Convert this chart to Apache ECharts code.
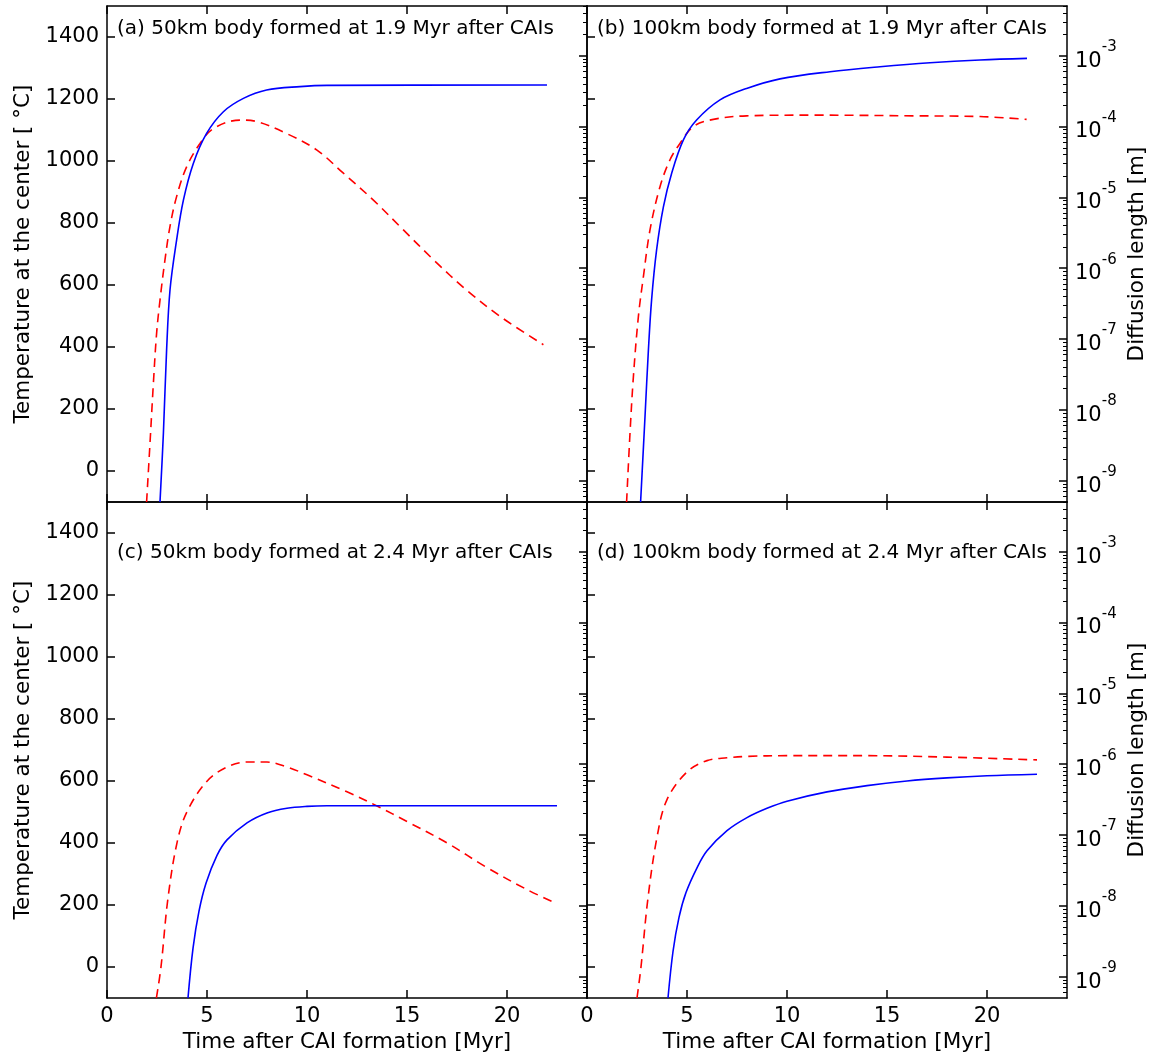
<!DOCTYPE html>
<html><head><meta charset="utf-8">
<script src="https://cdn.jsdelivr.net/npm/echarts@6/dist/echarts.min.js"></script>
<style>html,body{margin:0;padding:0;background:#fff}#c{width:1153px;height:1057px}</style>
</head><body><div id="c"></div>
<script>
// ---- tick labels ----
const tempTicks = [0, 200, 400, 600, 800, 1000, 1200, 1400];
const timeTicks = [0, 5, 10, 15, 20];
const logExpTicks = [-9, -8, -7, -6, -5, -4, -3];
const panelLabels = [
  '(a) 50km body formed at 1.9 Myr after CAIs',
  '(b) 100km body formed at 1.9 Myr after CAIs',
  '(c) 50km body formed at 2.4 Myr after CAIs',
  '(d) 100km body formed at 2.4 Myr after CAIs'
];
const xTitle = 'Time after CAI formation [Myr]';
const yLeftTitle = 'Temperature at the center [ °C]';
const yRightTitle = 'Diffusion length [m]';

// ---- data: [time Myr, temperature °C] (blue) ----
const aTemp = [[2.65,-100],[2.82,122],[2.98,390],[3.15,584],[3.48,745],[3.82,874],[4.32,993],[4.98,1089],[5.82,1159],[6.82,1202],[7.98,1229],[9.65,1240],[11,1244],[22,1245]];
const bTemp = [[2.68,-100],[2.9,175],[3.07,390],[3.23,552],[3.48,713],[3.82,852],[4.23,960],[4.82,1068],[5.48,1132],[6.65,1197],[7.98,1234],[9.65,1265],[12.15,1288],[14.65,1304],[17.15,1317],[19.65,1326],[22,1331]];
const cTemp = [[4.05,-100],[4.3,60],[4.6,180],[4.95,270],[5.5,360],[6,410],[7,465],[8,497],[9,512],[10,518],[11,520],[22.5,520]];
const dTemp = [[4.05,-100],[4.3,50],[4.6,160],[4.95,240],[5.5,320],[6,375],[7,440],[8,482],[9,512],[10,535],[12,565],[14,585],[16,600],[18,610],[20,617],[22.5,622]];

// ---- data: [time Myr, log10 diffusion length (m)] (red dashed) ----
const aDiff = [[1.98,-9.3],[2.15,-8.47],[2.32,-7.62],[2.48,-6.92],[2.65,-6.45],[2.9,-5.88],[3.15,-5.41],[3.48,-4.99],[3.98,-4.57],[4.65,-4.24],[5.32,-4.03],[6.65,-3.91],[7.48,-3.93],[8.98,-4.10],[10.48,-4.33],[11.82,-4.66],[13.32,-5.04],[14.82,-5.46],[16.32,-5.88],[17.98,-6.31],[19.65,-6.68],[21.82,-7.08]];
const bDiff = [[1.98,-9.3],[2.15,-8.33],[2.32,-7.53],[2.57,-6.68],[2.82,-6.12],[3.15,-5.46],[3.65,-4.85],[4.15,-4.47],[4.65,-4.24],[5.32,-4.0],[6.32,-3.9],[7.98,-3.85],[11.32,-3.84],[16.32,-3.85],[19.65,-3.86],[21.98,-3.9]];
const cDiff = [[2.47,-9.3],[2.7,-8.86],[3.04,-7.91],[3.5,-7.11],[4,-6.67],[5,-6.24],[6,-6.04],[7,-5.97],[8,-5.97],[9,-6.04],[10,-6.15],[12,-6.39],[13.5,-6.59],[15,-6.81],[17,-7.11],[19,-7.46],[21,-7.77],[22.5,-7.97]];
const dDiff = [[2.5,-9.3],[2.7,-8.86],[3.04,-7.91],[3.5,-7.03],[4,-6.5],[5,-6.11],[6,-5.95],[7,-5.91],[8,-5.89],[10,-5.88],[14,-5.88],[18,-5.9],[22.5,-5.94]];

const temps = [aTemp, bTemp, cTemp, dTemp];
const diffs = [aDiff, bDiff, cDiff, dDiff];

// minor log tick positions (2..9 x 10^n)
const minorLog = [];
for (let n = -10; n <= -3; n++) for (let k = 2; k <= 9; k++) {
  const v = n + Math.log10(k);
  if (v > -9.3 && v < -2.3) minorLog.push(v);
}

const FONT = 'DejaVu Sans';
const grids = [
  {left:107, top:6, width:480, height:496},
  {left:587, top:6, width:480, height:496},
  {left:107, top:502, width:480, height:496},
  {left:587, top:502, width:480, height:496}
];
const lineStyle = {color:'#000', width:1.5};
const xAxes = [], yAxes = [], series = [], titles = [];

grids.forEach((g, i) => {
  const isLeft = (i % 2 === 0), isBottom = (i >= 2);
  xAxes.push({
    gridIndex:i, type:'value', min:0, max:24, position:'bottom',
    axisLine:{show:true, onZero:false, lineStyle},
    axisTick:{show:true, inside:true, length:8, lineStyle, customValues:timeTicks},
    axisLabel:{show:isBottom, customValues:timeTicks, fontSize:21, fontFamily:FONT, color:'#000', margin:8,
      formatter: v => String(v)},
    splitLine:{show:false},
    name:isBottom ? xTitle : '', nameLocation:'middle', nameGap:33,
    nameTextStyle:{fontSize:21.5, fontFamily:FONT, color:'#000'}
  });
  xAxes.push({
    gridIndex:i, type:'value', min:0, max:24, position:'top',
    axisLine:{show:true, onZero:false, lineStyle},
    axisTick:{show:true, inside:true, length:8, lineStyle, customValues:timeTicks},
    axisLabel:{show:false}, splitLine:{show:false}
  });
  yAxes.push({
    gridIndex:i, type:'value', min:-100, max:1500, position:'left',
    axisLine:{show:true, onZero:false, lineStyle},
    axisTick:{show:true, inside:true, length:8, lineStyle, customValues:tempTicks},
    axisLabel:{show:isLeft, customValues:tempTicks, fontSize:21, fontFamily:FONT, color:'#000', margin:8,
      formatter: v => String(v)},
    splitLine:{show:false},
    name:isLeft ? yLeftTitle : '', nameLocation:'middle', nameGap:73, nameRotate:90,
    nameTextStyle:{fontSize:21.5, fontFamily:FONT, color:'#000'}
  });
  yAxes.push({
    gridIndex:i, type:'value', min:-9.3, max:-2.3, position:'right',
    axisLine:{show:true, onZero:false, lineStyle},
    axisTick:{show:true, inside:true, length:8, lineStyle, customValues:logExpTicks},
    axisLabel:{show:!isLeft, customValues:logExpTicks, margin:8, color:'#000',
      formatter: v => '{b|10}{s|' + Math.round(v) + '}',
      rich:{ b:{fontSize:21, fontFamily:FONT, color:'#000', verticalAlign:'bottom', lineHeight:32},
             s:{fontSize:15, fontFamily:FONT, color:'#000', verticalAlign:'top', lineHeight:32} }},
    splitLine:{show:false},
    name:!isLeft ? yRightTitle : '', nameLocation:'middle', nameGap:59, nameRotate:90,
    nameTextStyle:{fontSize:21.5, fontFamily:FONT, color:'#000'}
  });
  yAxes.push({
    gridIndex:i, type:'value', min:-9.3, max:-2.3, position:'right',
    axisLine:{show:false, onZero:false},
    axisTick:{show:true, inside:true, length:4, lineStyle:{color:'#000', width:1}, customValues:minorLog},
    axisLabel:{show:false}, splitLine:{show:false}
  });
  series.push({
    type:'line', xAxisIndex:2*i, yAxisIndex:3*i, data:temps[i],
    showSymbol:false, smooth:0.35, clip:true,
    lineStyle:{color:'#0000ff', width:1.6, type:'solid'}, z:3
  });
  series.push({
    type:'line', xAxisIndex:2*i, yAxisIndex:3*i+1, data:diffs[i],
    showSymbol:false, smooth:0.35, clip:true,
    lineStyle:{color:'#ff0000', width:1.6, type:[9,6]}, z:2
  });
  titles.push({
    text:panelLabels[i], left:g.left + 10, top: isBottom ? 543 : 19, padding:0,
    textStyle:{fontSize:20, fontWeight:'normal', fontFamily:FONT, color:'#000'}
  });
});

const chart = echarts.init(document.getElementById('c'), null, {renderer:'canvas'});
chart.setOption({
  animation:false, backgroundColor:'#fff',
  title:titles, grid:grids, xAxis:xAxes, yAxis:yAxes, series:series
});
</script></body></html>
